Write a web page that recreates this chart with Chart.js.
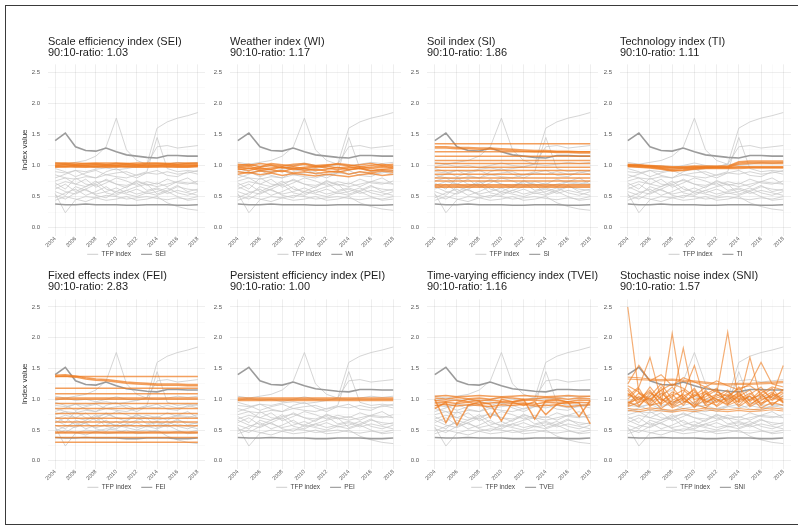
<!DOCTYPE html>
<html>
<head>
<meta charset="utf-8">
<script src="https://cdn.jsdelivr.net/npm/chart.js@4.4.1/dist/chart.umd.min.js"></script>
<style>
  html, body { margin: 0; padding: 0; background: #fff; }
  #page { position: relative; width: 798px; height: 529px; overflow: hidden; background: #fff; }
  #frame { position: absolute; left: 5px; top: 5px; width: 820px; height: 520px; border: 1px solid #3a3a3a; box-sizing: border-box; }
  #page canvas { position: absolute; }
</style>
</head>
<body>
<div id="page"><div id="frame"></div></div>
<script>
// ---- data ---------------------------------------------------------------
const years = [2004, 2005, 2006, 2007, 2008, 2009, 2010, 2011, 2012, 2013, 2014, 2015, 2016, 2017, 2018];
const yearTickLabels = ['2004', '2006', '2008', '2010', '2012', '2014', '2016', '2018'];
const valueTickLabels = ['0.0', '0.5', '1.0', '1.5', '2.0', '2.5'];

const indexNames = [
  'Scale efficiency index (SEI)', 'Weather index (WI)', 'Soil index (SI)', 'Technology index (TI)',
  'Fixed effects index (FEI)', 'Persistent efficiency index (PEI)', 'Time-varying efficiency index (TVEI)', 'Stochastic noise index (SNI)'
];
const indexCodes = ['SEI', 'WI', 'SI', 'TI', 'FEI', 'PEI', 'TVEI', 'SNI'];
const ratios = [1.03, 1.17, 1.86, 1.11, 2.83, 1.00, 1.16, 1.57];

// TFP index by region (same background in every panel)
const tfpTop    = [1.40, 1.52, 1.30, 1.24, 1.23, 1.28, 1.22, 1.17, 1.15, 1.13, 1.12, 1.16, 1.16, 1.15, 1.15];
const tfpBottom = [0.38, 0.37, 0.37, 0.38, 0.37, 0.37, 0.37, 0.36, 0.36, 0.37, 0.37, 0.37, 0.36, 0.36, 0.37];
const tfpOthers = [
  [0.98, 1.02, 1.05, 1.08, 1.15, 1.30, 1.76, 1.25, 1.08, 1.02, 1.00, 1.02, 1.05, 1.03, 1.05],
  [0.90, 0.88, 0.92, 0.90, 0.94, 0.96, 0.93, 0.95, 0.98, 1.02, 1.60, 1.70, 1.76, 1.80, 1.85],
  [0.75, 0.80, 0.78, 0.82, 0.80, 0.85, 0.82, 0.80, 0.85, 0.90, 1.45, 0.95, 0.90, 0.92, 0.90],
  [0.55, 0.24, 0.45, 0.50, 0.48, 0.52, 0.50, 0.46, 0.48, 0.50, 0.47, 0.45, 0.48, 0.46, 0.50],
  [0.85, 0.80, 0.70, 0.78, 0.65, 0.72, 0.80, 0.75, 0.68, 0.74, 0.70, 0.78, 0.72, 0.70, 0.75],
  [0.62, 0.70, 0.58, 0.66, 0.75, 0.62, 0.58, 0.66, 0.72, 0.60, 0.64, 0.58, 0.66, 0.62, 0.60],
  [0.95, 0.90, 0.82, 0.88, 0.92, 0.85, 0.88, 0.90, 0.84, 0.88, 0.86, 0.90, 0.86, 0.88, 0.92],
  [0.48, 0.56, 0.62, 0.52, 0.58, 0.66, 0.55, 0.60, 0.54, 0.58, 0.62, 0.55, 0.60, 0.56, 0.52],
  [0.72, 0.62, 0.80, 0.70, 0.68, 0.78, 0.70, 0.64, 0.76, 0.68, 0.72, 0.66, 0.74, 0.80, 0.70],
  [0.44, 0.50, 0.46, 0.42, 0.48, 0.44, 0.46, 0.50, 0.44, 0.46, 0.50, 0.40, 0.34, 0.30, 0.28],
  [0.80, 0.86, 0.92, 0.84, 0.80, 0.90, 0.95, 0.86, 0.80, 0.88, 0.92, 0.84, 0.82, 0.90, 0.86],
  [0.58, 0.52, 0.66, 0.60, 0.54, 0.58, 0.64, 0.56, 0.62, 0.55, 0.58, 0.64, 0.56, 0.52, 0.58],
  [0.66, 0.58, 0.54, 0.62, 0.70, 0.56, 0.52, 0.60, 0.66, 0.70, 0.54, 0.60, 0.68, 0.58, 0.62],
  [0.52, 0.46, 0.56, 0.62, 0.52, 0.48, 0.58, 0.54, 0.50, 0.56, 0.52, 0.58, 0.50, 0.44, 0.46],
  [0.68, 0.74, 0.70, 0.66, 0.72, 0.76, 0.70, 0.68, 0.74, 0.70, 0.66, 0.70, 0.74, 0.72, 0.70],
  [1.05, 1.02, 0.98, 1.00, 0.96, 1.00, 1.04, 1.00, 0.98, 1.02, 1.30, 1.32, 1.28, 1.30, 1.32]
];

// component indices by region
const seiSeries = [
  [1.04, 1.04, 1.04, 1.03, 1.04, 1.04, 1.04, 1.03, 1.04, 1.04, 1.04, 1.03, 1.04, 1.04, 1.04],
  [1.03, 1.03, 1.02, 1.03, 1.03, 1.02, 1.03, 1.03, 1.02, 1.03, 1.03, 1.03, 1.02, 1.03, 1.03],
  [1.01, 1.02, 1.01, 1.01, 1.02, 1.01, 1.01, 1.02, 1.01, 1.01, 1.02, 1.01, 1.01, 1.02, 1.01],
  [1.00, 1.01, 1.00, 1.00, 1.01, 1.00, 1.00, 1.01, 1.00, 1.00, 1.00, 1.01, 1.00, 1.00, 1.00],
  [0.99, 0.99, 1.00, 0.99, 0.99, 1.00, 0.99, 0.99, 1.00, 0.99, 0.99, 1.00, 0.99, 0.99, 1.00],
  [0.98, 0.98, 0.99, 0.98, 0.98, 0.98, 0.99, 0.98, 0.98, 0.98, 0.99, 0.98, 0.98, 0.98, 0.99],
  [0.97, 0.98, 0.97, 0.97, 0.98, 0.97, 0.97, 0.98, 0.97, 0.97, 0.97, 0.98, 0.97, 0.97, 0.98]
];
const wiSeries = [
  [1.02, 1.00, 1.03, 1.01, 0.99, 1.02, 1.03, 1.00, 1.01, 1.02, 0.99, 1.01, 1.03, 1.00, 1.02],
  [1.00, 1.02, 0.98, 1.03, 1.01, 0.99, 1.02, 0.98, 1.00, 1.03, 1.01, 0.98, 1.00, 1.02, 0.99],
  [0.98, 0.95, 0.97, 1.00, 0.96, 0.98, 0.95, 0.97, 0.99, 0.96, 0.98, 0.95, 0.97, 0.99, 0.96],
  [0.97, 0.99, 0.94, 0.96, 0.98, 0.95, 0.97, 0.99, 0.96, 0.93, 0.96, 0.98, 0.95, 0.97, 0.98],
  [0.95, 0.92, 0.96, 0.93, 0.90, 0.95, 0.92, 0.94, 0.91, 0.89, 0.93, 0.95, 0.91, 0.93, 0.92],
  [0.93, 0.96, 0.92, 0.94, 0.97, 0.93, 0.95, 0.92, 0.94, 0.97, 0.93, 0.96, 0.92, 0.94, 0.95],
  [0.90, 0.88, 0.91, 0.89, 0.92, 0.88, 0.90, 0.87, 0.89, 0.91, 0.86, 0.90, 0.88, 0.91, 0.89],
  [0.86, 0.89, 0.85, 0.88, 0.84, 0.87, 0.85, 0.83, 0.86, 0.84, 0.82, 0.85, 0.87, 0.84, 0.86]
];
const siSeries = [
  [1.35, 1.35, 1.35, 1.35, 1.35, 1.35, 1.35, 1.35, 1.35, 1.35, 1.35, 1.35, 1.35, 1.35, 1.35],
  [1.30, 1.30, 1.29, 1.29, 1.28, 1.28, 1.27, 1.26, 1.25, 1.24, 1.24, 1.23, 1.23, 1.22, 1.22],
  [1.28, 1.28, 1.27, 1.27, 1.26, 1.26, 1.25, 1.24, 1.23, 1.22, 1.22, 1.21, 1.21, 1.20, 1.20],
  [1.22, 1.22, 1.22, 1.22, 1.22, 1.22, 1.22, 1.22, 1.22, 1.22, 1.22, 1.22, 1.22, 1.22, 1.22],
  [1.15, 1.15, 1.15, 1.15, 1.15, 1.15, 1.15, 1.15, 1.15, 1.15, 1.15, 1.15, 1.15, 1.15, 1.15],
  [1.08, 1.08, 1.08, 1.08, 1.08, 1.08, 1.08, 1.08, 1.08, 1.08, 1.08, 1.08, 1.08, 1.08, 1.08],
  [1.03, 1.03, 1.03, 1.03, 1.03, 1.03, 1.03, 1.03, 1.03, 1.03, 1.03, 1.03, 1.03, 1.03, 1.03],
  [0.97, 0.97, 0.97, 0.97, 0.97, 0.97, 0.97, 0.97, 0.97, 0.97, 0.97, 0.97, 0.97, 0.97, 0.97],
  [0.92, 0.92, 0.92, 0.92, 0.92, 0.92, 0.92, 0.92, 0.92, 0.92, 0.92, 0.92, 0.92, 0.92, 0.92],
  [0.86, 0.86, 0.86, 0.86, 0.86, 0.86, 0.86, 0.86, 0.86, 0.86, 0.86, 0.86, 0.86, 0.86, 0.86],
  [0.80, 0.80, 0.80, 0.80, 0.80, 0.80, 0.80, 0.80, 0.80, 0.80, 0.80, 0.80, 0.80, 0.80, 0.80],
  [0.75, 0.75, 0.75, 0.75, 0.75, 0.75, 0.75, 0.75, 0.75, 0.75, 0.75, 0.75, 0.75, 0.75, 0.75],
  [0.69, 0.69, 0.69, 0.69, 0.69, 0.69, 0.69, 0.69, 0.69, 0.69, 0.69, 0.69, 0.69, 0.69, 0.69],
  [0.67, 0.67, 0.67, 0.67, 0.67, 0.67, 0.67, 0.67, 0.67, 0.67, 0.67, 0.67, 0.67, 0.67, 0.67],
  [0.65, 0.65, 0.65, 0.65, 0.65, 0.65, 0.65, 0.65, 0.65, 0.65, 0.65, 0.65, 0.65, 0.65, 0.65]
];
const tiSeries = [
  [1.02, 1.01, 1.00, 0.99, 0.98, 0.98, 0.99, 0.99, 0.99, 0.99, 1.06, 1.07, 1.07, 1.07, 1.07],
  [1.01, 1.00, 0.99, 0.98, 0.97, 0.97, 0.98, 0.98, 0.98, 0.98, 1.04, 1.05, 1.05, 1.05, 1.05],
  [1.00, 0.99, 0.98, 0.96, 0.94, 0.95, 0.96, 0.97, 0.97, 0.97, 1.02, 1.03, 1.03, 1.03, 1.03],
  [0.99, 0.98, 0.97, 0.95, 0.92, 0.93, 0.95, 0.96, 0.96, 0.96, 0.97, 0.97, 0.97, 0.97, 0.97],
  [0.98, 0.97, 0.96, 0.94, 0.91, 0.92, 0.94, 0.95, 0.95, 0.95, 0.95, 0.96, 0.96, 0.96, 0.96],
  [1.00, 1.00, 0.99, 0.97, 0.96, 0.96, 0.97, 0.97, 0.97, 0.97, 0.98, 0.98, 0.98, 0.98, 0.98]
];
const feiSeries = [
  [1.37, 1.37, 1.37, 1.37, 1.37, 1.37, 1.37, 1.37, 1.37, 1.37, 1.37, 1.37, 1.37, 1.37, 1.37],
  [1.39, 1.40, 1.38, 1.35, 1.33, 1.32, 1.30, 1.28, 1.27, 1.26, 1.25, 1.25, 1.25, 1.24, 1.24],
  [1.37, 1.38, 1.36, 1.33, 1.31, 1.30, 1.28, 1.26, 1.25, 1.24, 1.23, 1.23, 1.23, 1.22, 1.22],
  [1.18, 1.18, 1.18, 1.18, 1.18, 1.18, 1.18, 1.18, 1.18, 1.18, 1.18, 1.18, 1.18, 1.18, 1.18],
  [1.09, 1.09, 1.09, 1.09, 1.09, 1.09, 1.09, 1.09, 1.09, 1.09, 1.09, 1.09, 1.09, 1.09, 1.09],
  [1.02, 1.02, 1.02, 1.02, 1.02, 1.02, 1.02, 1.02, 1.02, 1.02, 1.02, 1.02, 1.02, 1.02, 1.02],
  [1.00, 1.00, 1.00, 1.00, 1.00, 1.00, 1.00, 1.00, 1.00, 1.00, 1.00, 1.00, 1.00, 1.00, 1.00],
  [0.93, 0.93, 0.93, 0.93, 0.93, 0.93, 0.93, 0.93, 0.93, 0.93, 0.93, 0.93, 0.93, 0.93, 0.93],
  [0.85, 0.85, 0.85, 0.85, 0.85, 0.85, 0.85, 0.85, 0.85, 0.85, 0.85, 0.85, 0.85, 0.85, 0.85],
  [0.77, 0.77, 0.77, 0.77, 0.77, 0.77, 0.77, 0.77, 0.77, 0.77, 0.77, 0.77, 0.77, 0.77, 0.77],
  [0.69, 0.69, 0.69, 0.69, 0.69, 0.69, 0.69, 0.69, 0.69, 0.69, 0.69, 0.69, 0.69, 0.69, 0.69],
  [0.63, 0.63, 0.63, 0.63, 0.63, 0.63, 0.63, 0.63, 0.63, 0.63, 0.63, 0.63, 0.63, 0.63, 0.63],
  [0.57, 0.57, 0.57, 0.57, 0.57, 0.57, 0.57, 0.57, 0.57, 0.57, 0.57, 0.57, 0.57, 0.57, 0.57],
  [0.47, 0.47, 0.47, 0.47, 0.47, 0.47, 0.47, 0.47, 0.47, 0.47, 0.47, 0.47, 0.47, 0.47, 0.47],
  [0.45, 0.45, 0.45, 0.45, 0.45, 0.45, 0.45, 0.45, 0.45, 0.45, 0.45, 0.45, 0.45, 0.45, 0.45],
  [0.38, 0.38, 0.38, 0.38, 0.38, 0.38, 0.38, 0.38, 0.38, 0.38, 0.38, 0.38, 0.38, 0.38, 0.38],
  [0.30, 0.30, 0.30, 0.30, 0.30, 0.30, 0.30, 0.30, 0.30, 0.30, 0.30, 0.30, 0.30, 0.30, 0.30]
];
const peiSeries = [
  [1.02, 1.02, 1.02, 1.02, 1.02, 1.02, 1.02, 1.02, 1.02, 1.02, 1.02, 1.02, 1.02, 1.02, 1.02],
  [1.00, 1.00, 1.00, 1.00, 1.00, 1.00, 1.00, 1.00, 1.00, 1.00, 1.00, 1.00, 1.00, 1.00, 1.00],
  [0.98, 0.98, 0.98, 0.98, 0.98, 0.98, 0.98, 0.98, 0.98, 0.98, 0.98, 0.98, 0.98, 0.98, 0.98]
];
const tveiSeries = [
  [1.05, 1.06, 1.04, 1.05, 1.06, 1.05, 1.04, 1.05, 1.06, 1.05, 1.04, 1.05, 1.06, 1.05, 1.05],
  [1.02, 1.00, 1.03, 1.01, 1.02, 1.00, 1.03, 1.02, 1.00, 1.01, 1.03, 1.02, 1.00, 1.02, 1.01],
  [0.98, 0.97, 0.99, 0.96, 0.98, 0.99, 0.97, 0.96, 0.98, 0.99, 0.97, 0.98, 0.96, 0.99, 0.98],
  [0.94, 0.95, 0.93, 0.95, 0.92, 0.94, 0.95, 0.93, 0.94, 0.92, 0.95, 0.94, 0.93, 0.95, 0.94],
  [0.90, 0.92, 0.89, 0.91, 0.90, 0.88, 0.91, 0.90, 0.92, 0.89, 0.90, 0.91, 0.88, 0.90, 0.91],
  [1.00, 0.62, 0.95, 1.00, 0.98, 0.70, 1.00, 0.96, 1.00, 0.68, 0.98, 1.00, 0.95, 0.72, 0.98],
  [0.85, 0.95, 0.58, 0.90, 0.96, 0.92, 0.65, 0.95, 0.90, 0.96, 0.75, 0.92, 0.96, 0.94, 0.60]
];
const sniSeries = [
  [1.36, 1.35, 1.33, 1.32, 1.33, 1.31, 1.30, 1.28, 1.26, 1.25, 1.26, 1.26, 1.27, 1.28, 1.29],
  [1.33, 1.32, 1.31, 1.30, 1.31, 1.29, 1.28, 1.26, 1.24, 1.23, 1.24, 1.24, 1.25, 1.26, 1.27],
  [0.82, 0.80, 0.83, 0.81, 0.79, 0.82, 0.80, 0.83, 0.81, 0.80, 0.82, 0.80, 0.81, 0.83, 0.81],
  [0.85, 0.83, 0.86, 0.84, 0.82, 0.85, 0.83, 0.86, 0.84, 0.83, 0.85, 0.83, 0.84, 0.86, 0.84],
  [2.50, 1.10, 0.95, 1.20, 0.90, 1.05, 1.15, 0.92, 1.08, 0.98, 1.12, 0.90, 1.05, 1.18, 0.95],
  [1.05, 1.20, 1.68, 1.00, 0.92, 1.10, 1.55, 0.95, 1.05, 1.15, 0.90, 1.08, 1.20, 0.98, 1.10],
  [0.95, 1.00, 1.15, 0.90, 2.07, 0.95, 1.05, 1.12, 0.88, 1.00, 1.10, 0.92, 1.02, 1.12, 0.95],
  [1.15, 0.90, 1.05, 1.25, 1.00, 1.83, 0.95, 1.08, 1.18, 0.92, 1.05, 1.15, 0.90, 1.05, 1.12],
  [0.90, 1.05, 0.92, 1.10, 0.95, 1.02, 0.88, 1.00, 1.08, 2.09, 0.95, 1.05, 0.92, 1.10, 1.00],
  [1.10, 0.95, 1.20, 0.98, 1.08, 0.90, 1.12, 0.96, 1.02, 1.08, 0.95, 1.68, 1.00, 1.05, 1.55],
  [1.00, 1.18, 0.88, 1.05, 1.20, 0.98, 0.90, 1.15, 0.95, 1.02, 1.20, 0.96, 1.10, 0.90, 1.06],
  [0.88, 0.95, 1.02, 0.85, 0.98, 1.08, 0.92, 0.86, 1.00, 0.90, 0.98, 1.05, 0.86, 0.95, 0.90],
  [1.22, 1.12, 1.00, 1.15, 1.25, 1.18, 1.05, 1.20, 1.12, 1.05, 1.18, 1.22, 1.10, 1.20, 1.15],
  [1.25, 1.55, 1.30, 1.40, 1.22, 1.35, 1.28, 1.20, 1.30, 1.22, 1.15, 1.25, 1.60, 1.25, 1.20],
  [0.96, 0.88, 1.10, 1.02, 0.86, 0.94, 1.08, 0.98, 0.90, 1.06, 0.88, 1.00, 1.08, 0.92, 1.02],
  [1.08, 1.02, 0.90, 0.95, 1.12, 1.04, 0.86, 1.10, 1.00, 0.92, 1.06, 0.88, 0.98, 1.08, 0.94],
  [0.92, 1.10, 0.98, 1.15, 0.88, 1.00, 1.18, 0.90, 0.96, 1.12, 1.00, 1.10, 0.94, 1.00, 1.16],
  [1.18, 0.98, 1.12, 0.92, 1.05, 1.15, 1.00, 1.04, 1.15, 0.95, 1.08, 0.98, 1.15, 1.02, 0.98]
];
const componentSeries = [seiSeries, wiSeries, siSeries, tiSeries, feiSeries, peiSeries, tveiSeries, sniSeries];

// ---- layout & styles ----------------------------------------------------
const FONT = "'Liberation Sans', Arial, Helvetica, sans-serif";
const COLS = [
  { areaL: 48,  areaR: 205, yW: 28 },
  { areaL: 230, areaR: 401, yW: 18 },
  { areaL: 427, areaR: 598, yW: 18 },
  { areaL: 620, areaR: 791, yW: 18 }
];
const ROWS = [
  { titleY: 42,    areaT: 64.3,  areaB: 234.8 },
  { titleY: 275.5, areaT: 299.3, areaB: 467.7 }
];
const TITLE_SIZE = 11, TITLE_LH = 11.5, PAD_TOP = 3, PAD_R = 2;
const LEG_FONT = 6.5, LEG_PAD = 10, X_H = 16;
const LEG_H = LEG_FONT + LEG_PAD + 10;
// legend text centre sits this far below the plot area
const LEG_OFFSET = 18.8;
const LEG_LIFT = X_H + LEG_PAD + LEG_FONT / 2 - LEG_OFFSET;

const ORANGE = 'rgba(238, 124, 32, 0.72)';
const ORANGE_THIN = 'rgba(238, 124, 32, 0.62)';
const GREY_LIGHT = 'rgba(200, 200, 200, 0.85)';
const GREY_DARK = 'rgba(150, 150, 150, 0.95)';
const GRID_MAJOR = 'rgba(0, 0, 0, 0.085)';
const GRID_MINOR = 'rgba(0, 0, 0, 0.045)';

const page = document.getElementById('page');
const yTickValues = [];
for (let k = 0; k <= 10; k++) yTickValues.push(k * 0.25);

// pulls the legend up into the space under the rotated year labels
const legendLift = {
  id: 'legendLift',
  afterLayout(chart) {
    const lg = chart.legend;
    if (lg) { lg.top -= LEG_LIFT; lg.bottom -= LEG_LIFT; }
  }
};

function toPoints(vals) { return vals.map((v, i) => ({ x: years[i], y: v })); }

function lineSet(vals, color, width, order) {
  return { data: toPoints(vals), borderColor: color, borderWidth: width, pointRadius: 0,
           tension: 0, fill: false, order: order };
}

function isHalfStep(v) { return Math.abs(v * 2 - Math.round(v * 2)) < 1e-6; }

for (let p = 0; p < 8; p++) {
  const col = COLS[p % 4];
  const row = ROWS[Math.floor(p / 4)];
  const left = col.areaL - col.yW;
  const top = Math.round(row.titleY - TITLE_LH / 2 - PAD_TOP);
  const width = col.areaR + PAD_R - left;
  const height = Math.round(Math.round(row.areaB - top) + X_H + LEG_H);
  const subPad = row.areaT - top - PAD_TOP - 2 * TITLE_LH;

  const canvas = document.createElement('canvas');
  canvas.width = width;
  canvas.height = height;
  canvas.style.left = left + 'px';
  canvas.style.top = top + 'px';
  canvas.style.width = width + 'px';
  canvas.style.height = height + 'px';
  page.appendChild(canvas);

  const noisy = indexCodes[p] === 'SNI';
  const datasets = [];
  componentSeries[p].forEach(s => datasets.push(lineSet(s, noisy ? ORANGE_THIN : ORANGE, noisy ? 1.2 : 1.5, 0)));
  datasets.push(lineSet(tfpTop, GREY_DARK, 1.6, 1));
  datasets.push(lineSet(tfpBottom, GREY_DARK, 1.6, 1));
  tfpOthers.forEach(s => datasets.push(lineSet(s, GREY_LIGHT, 0.9, 2)));

  new Chart(canvas, {
    type: 'line',
    data: { datasets },
    plugins: [legendLift],
    options: {
      responsive: false,
      devicePixelRatio: 1,
      animation: false,
      events: [],
      layout: { padding: { top: PAD_TOP, right: PAD_R, left: 0, bottom: 0 } },
      scales: {
        x: {
          type: 'linear', min: 2003.3, max: 2018.7,
          afterBuildTicks: s => { s.ticks = years.map(v => ({ value: v })); },
          afterFit: s => { s.height = X_H; },
          grid: { drawTicks: false,
                  color: c => (c.tick && yearTickLabels.includes(String(c.tick.value))) ? GRID_MAJOR : GRID_MINOR,
                  lineWidth: c => (c.tick && yearTickLabels.includes(String(c.tick.value))) ? 0.8 : 0.5 },
          border: { display: false },
          ticks: { autoSkip: false, minRotation: 45, maxRotation: 45, padding: 0, color: '#555',
                   font: { family: FONT, size: 5.5 },
                   callback: v => yearTickLabels.includes(String(v)) ? String(v) : '' }
        },
        y: {
          type: 'linear', min: -0.125, max: 2.625,
          afterBuildTicks: s => { s.ticks = yTickValues.map(v => ({ value: v })); },
          afterFit: s => { s.width = col.yW; },
          grid: { drawTicks: false,
                  color: c => (c.tick && isHalfStep(c.tick.value)) ? GRID_MAJOR : GRID_MINOR,
                  lineWidth: c => (c.tick && isHalfStep(c.tick.value)) ? 0.8 : 0.5 },
          border: { display: false },
          title: { display: p % 4 === 0, text: 'Index value', color: '#333',
                   font: { family: FONT, size: 8 }, padding: { top: 0, bottom: 0 } },
          ticks: { padding: 8, color: '#555', font: { family: FONT, size: 6 },
                   callback: v => valueTickLabels.find(l => Math.abs(parseFloat(l) - v) < 1e-6) || '' }
        }
      },
      plugins: {
        title: { display: true, text: indexNames[p], align: 'start', fullSize: false, color: '#1e1e1e',
                 font: { family: FONT, size: TITLE_SIZE, weight: 'normal', lineHeight: TITLE_LH + 'px' },
                 padding: { top: 0, bottom: 0 } },
        subtitle: { display: true, text: '90:10-ratio: ' + ratios[p].toFixed(2), align: 'start', fullSize: false,
                    color: '#1e1e1e',
                    font: { family: FONT, size: TITLE_SIZE, weight: 'normal', lineHeight: TITLE_LH + 'px' },
                    padding: { top: 0, bottom: subPad } },
        legend: {
          position: 'bottom', fullSize: false,
          labels: {
            font: { family: FONT, size: LEG_FONT }, color: '#444', padding: LEG_PAD,
            usePointStyle: true, pointStyleWidth: 11,
            generateLabels: () => [
              { text: 'TFP index', strokeStyle: 'rgb(205,205,205)', fillStyle: 'rgba(0,0,0,0)', lineWidth: 1, pointStyle: 'line', hidden: false, fontColor: '#444' },
              { text: indexCodes[p], strokeStyle: 'rgb(140,140,140)', fillStyle: 'rgba(0,0,0,0)', lineWidth: 1, pointStyle: 'line', hidden: false, fontColor: '#444' }
            ]
          }
        },
        tooltip: { enabled: false }
      }
    }
  });
}
</script>
</body>
</html>
